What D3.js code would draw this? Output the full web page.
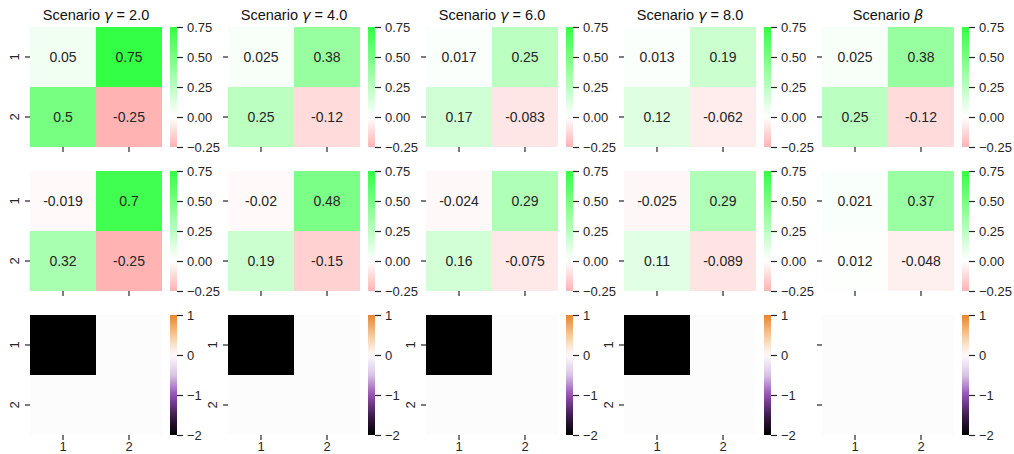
<!DOCTYPE html>
<html><head><meta charset="utf-8">
<script src="https://cdn.jsdelivr.net/npm/d3@7"></script>
<style>body{margin:0;background:#fff}</style>
</head><body>
<svg id="c" width="1014" height="454"></svg>
<script>
const titlePrefix = ["Scenario ", "Scenario ", "Scenario ", "Scenario ", "Scenario "];
const titleSymbol = ["γ", "γ", "γ", "γ", "β"];
const titleSuffix = [" = 2.0", " = 4.0", " = 6.0", " = 8.0", ""];
const rowLabels = ["1", "2"];
const colLabels = ["1", "2"];

// row 1 matrices
const top_g2 = [[0.05, 0.75], [0.5, -0.25]];
const top_g4 = [[0.025, 0.38], [0.25, -0.12]];
const top_g6 = [[0.017, 0.25], [0.17, -0.083]];
const top_g8 = [[0.013, 0.19], [0.12, -0.062]];
const top_b  = [[0.025, 0.38], [0.25, -0.12]];
// row 2 matrices
const mid_g2 = [[-0.019, 0.7], [0.32, -0.25]];
const mid_g4 = [[-0.02, 0.48], [0.19, -0.15]];
const mid_g6 = [[-0.024, 0.29], [0.16, -0.075]];
const mid_g8 = [[-0.025, 0.29], [0.11, -0.089]];
const mid_b  = [[0.021, 0.37], [0.012, -0.048]];
// row 3 matrices
const bot_g2 = [[-2, 0], [0, 0]];
const bot_g4 = [[-2, 0], [0, 0]];
const bot_g6 = [[-2, 0], [0, 0]];
const bot_g8 = [[-2, 0], [0, 0]];
const bot_b  = [[0, 0], [0, 0]];

const greenTicks = [0.75, 0.5, 0.25, 0, -0.25];
const purpleTicks = [1, 0, -1, -2];

const rows = [
  {mats: [top_g2, top_g4, top_g6, top_g8, top_b], kind: "green", annot: true},
  {mats: [mid_g2, mid_g4, mid_g6, mid_g8, mid_b], kind: "green", annot: true},
  {mats: [bot_g2, bot_g4, bot_g6, bot_g8, bot_b], kind: "purple", annot: false}
];

const greenColor = d3.scaleLinear().domain([-0.25, 0, 0.75])
  .range(["#ffb3b3", "#ffffff", "#33ff44"]).clamp(true);
const purpleColor = d3.scaleLinear().domain([-2, -1.5, -1, -0.5, 0, 0.5, 1])
  .range(["#000000", "#3f1d4f", "#9450b2", "#d9c3e6", "#fdfcfd", "#f6c998", "#e8842c"]).clamp(true);

const svg = d3.select("#c");
const FONT = "Liberation Sans, Arial, Helvetica, sans-serif";
const TXT = "#262626";
const colStep = 198, rowStep = 144;
const hmX0 = 30, hmY0 = 27, hmW = 132, hmH = 120;
const cbX0 = 170, cbW = 7;

const defs = svg.append("defs");

rows.forEach((row, ri) => {
  row.mats.forEach((mat, ci) => {
    const gx = hmX0 + ci * colStep, gy = hmY0 + ri * rowStep;
    const g = svg.append("g").attr("transform", `translate(${gx},${gy})`);
    const x = d3.scaleBand().domain(colLabels).range([0, hmW]);
    const y = d3.scaleBand().domain(rowLabels).range([0, hmH]);
    const color = row.kind === "green" ? greenColor : purpleColor;
    const cells = [];
    mat.forEach((r, i) => r.forEach((v, j) => cells.push({r: rowLabels[i], c: colLabels[j], v})));
    g.selectAll("rect.cell").data(cells).join("rect")
      .attr("x", d => x(d.c)).attr("y", d => y(d.r))
      .attr("width", x.bandwidth()).attr("height", y.bandwidth())
      .attr("fill", d => color(d.v)).attr("shape-rendering", "crispEdges");
    if (row.annot) {
      g.selectAll("text.ann").data(cells).join("text")
        .attr("x", d => x(d.c) + x.bandwidth() / 2)
        .attr("y", d => y(d.r) + y.bandwidth() / 2)
        .attr("text-anchor", "middle").attr("dominant-baseline", "central")
        .attr("font-family", FONT).attr("font-size", 14).attr("fill", TXT)
        .text(d => d3.format(".2~g")(d.v).replace("−", "-"));
    }
    // y axis
    const ya = g.append("g").call(d3.axisLeft(y).tickSize(5).tickPadding(7));
    ya.select(".domain").remove();
    ya.selectAll(".tick line").attr("stroke", TXT).attr("stroke-width", 1.2);
    ya.selectAll(".tick text").attr("font-family", FONT).attr("font-size", 13).attr("fill", TXT)
      .attr("transform", "rotate(-90)").attr("x", 0).attr("y", -16)
      .attr("text-anchor", "middle").attr("dy", null).attr("dominant-baseline", "central");
    const showY = (ri < 2) ? (ci === 0) : (ci < 4);
    if (!showY) ya.selectAll(".tick text").remove();
    // x axis
    const xa = g.append("g").attr("transform", `translate(0,${hmH})`)
      .call(d3.axisBottom(x).tickSize(5).tickPadding(2));
    xa.select(".domain").remove();
    xa.selectAll(".tick line").attr("stroke", TXT).attr("stroke-width", 1.2);
    xa.selectAll(".tick text").attr("font-family", FONT).attr("font-size", 13).attr("fill", TXT);
    if (ri !== 2) xa.selectAll(".tick text").remove();

    // title
    if (ri === 0) {
      const t = svg.append("text").attr("x", gx + hmW / 2).attr("y", 20)
        .attr("text-anchor", "middle").attr("font-family", FONT)
        .attr("font-size", 14.5).attr("fill", "#111");
      t.append("tspan").text(titlePrefix[ci]);
      t.append("tspan").attr("font-family", "DejaVu Sans").attr("font-style", "italic").text(titleSymbol[ci]);
      t.append("tspan").text(titleSuffix[ci]);
    }

    // colorbar
    const cx = cbX0 + ci * colStep;
    const cs = row.kind === "green"
      ? d3.scaleLinear().domain([-0.25, 0.75]).range([hmH, 0])
      : d3.scaleLinear().domain([-2, 1]).range([hmH, 0]);
    const gid = `grad_${ri}_${ci}`;
    const grad = defs.append("linearGradient").attr("id", gid)
      .attr("x1", 0).attr("y1", 1).attr("x2", 0).attr("y2", 0);
    const [d0, d1] = cs.domain();
    d3.range(0, 21).forEach(k => {
      const v = d0 + (d1 - d0) * k / 20;
      grad.append("stop").attr("offset", k / 20).attr("stop-color", color(v));
    });
    const cg = svg.append("g").attr("transform", `translate(${cx},${gy})`);
    cg.append("rect").attr("width", cbW).attr("height", hmH).attr("fill", `url(#${gid})`);
    const ticks = row.kind === "green" ? greenTicks : purpleTicks;
    const ca = cg.append("g").attr("transform", `translate(${cbW},0)`)
      .call(d3.axisRight(cs).tickValues(ticks).tickSize(6).tickPadding(4)
        .tickFormat(row.kind === "green" ? (d => d3.format(".2f")(d)) : d3.format("d")));
    ca.select(".domain").remove();
    ca.selectAll(".tick line").attr("stroke", TXT).attr("stroke-width", 1.2);
    ca.selectAll(".tick text").attr("font-family", FONT).attr("font-size", 13).attr("fill", TXT);
  });
});
</script>
</body></html>
